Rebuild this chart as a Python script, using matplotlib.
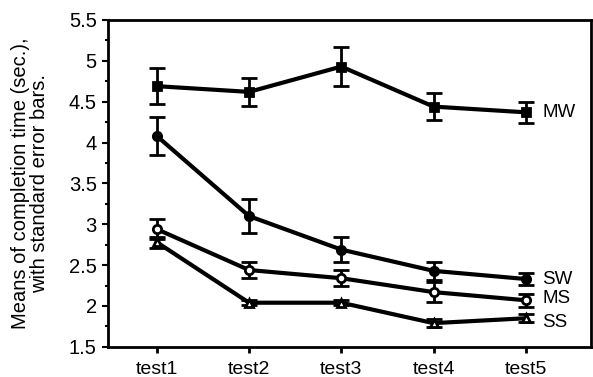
import matplotlib
matplotlib.use("Agg")
import matplotlib.pyplot as plt
from matplotlib.ticker import MultipleLocator

plt.rcParams['font.family'] = ['Liberation Sans', 'DejaVu Sans']

tests = ['test1', 'test2', 'test3', 'test4', 'test5']

mw = [4.69, 4.62, 4.93, 4.44, 4.37]
mw_err = [0.22, 0.17, 0.24, 0.17, 0.13]
sw = [4.08, 3.10, 2.69, 2.43, 2.33]
sw_err = [0.23, 0.21, 0.15, 0.11, 0.07]
ms = [2.94, 2.44, 2.34, 2.17, 2.07]
ms_err = [0.12, 0.10, 0.10, 0.12, 0.08]
ss = [2.78, 2.04, 2.04, 1.79, 1.85]
ss_err = [0.07, 0.03, 0.03, 0.05, 0.05]

x = list(range(1, len(tests) + 1))

fig = plt.figure(figsize=(5.93, 3.77), dpi=100)
ax = fig.add_axes([0.182, 0.080, 0.815, 0.867])

series = [
    ('MW', mw, mw_err, 's', 'black'),
    ('SW', sw, sw_err, 'o', 'black'),
    ('MS', ms, ms_err, 'o', 'white'),
    ('SS', ss, ss_err, '^', 'white'),
]
for name, vals, err, mk, fc in series:
    ax.errorbar(x, vals, yerr=err, color='black', lw=3, marker=mk, ms=6,
                mfc=fc, mec='black', mew=2, capsize=5.5, capthick=2.5,
                elinewidth=2)

# series labels at the right end
label_y = {'MW': mw[-1], 'SW': sw[-1], 'MS': ms[-1] + 0.02, 'SS': ss[-1] - 0.05}
for name, yv in label_y.items():
    ax.text(x[-1] + 0.18, yv, name, fontsize=13.5, va='center', ha='left')

ax.set_xlim(0.47, 5.71)
ax.set_ylim(1.5, 5.5)
ax.set_xticks(x)
ax.set_xticklabels(tests, fontsize=14)
ax.set_yticks([1.5, 2, 2.5, 3, 3.5, 4, 4.5, 5, 5.5])
ax.set_yticklabels(['1.5', '2', '2.5', '3', '3.5', '4', '4.5', '5', '5.5'], fontsize=14.5)
ax.yaxis.set_minor_locator(MultipleLocator(0.25))
ax.tick_params(axis='y', which='major', direction='out', length=4, width=1.5, pad=4)
ax.tick_params(axis='y', which='minor', direction='out', length=2, width=1.5)
ax.tick_params(axis='x', direction='out', length=4, width=2, pad=6)

for sp in ax.spines.values():
    sp.set_linewidth(2)

ax.set_ylabel('Means of completion time (sec.),\nwith standard error bars.', fontsize=14.5,
              labelpad=14, linespacing=1.05)

fig.savefig('out.png', dpi=100)
